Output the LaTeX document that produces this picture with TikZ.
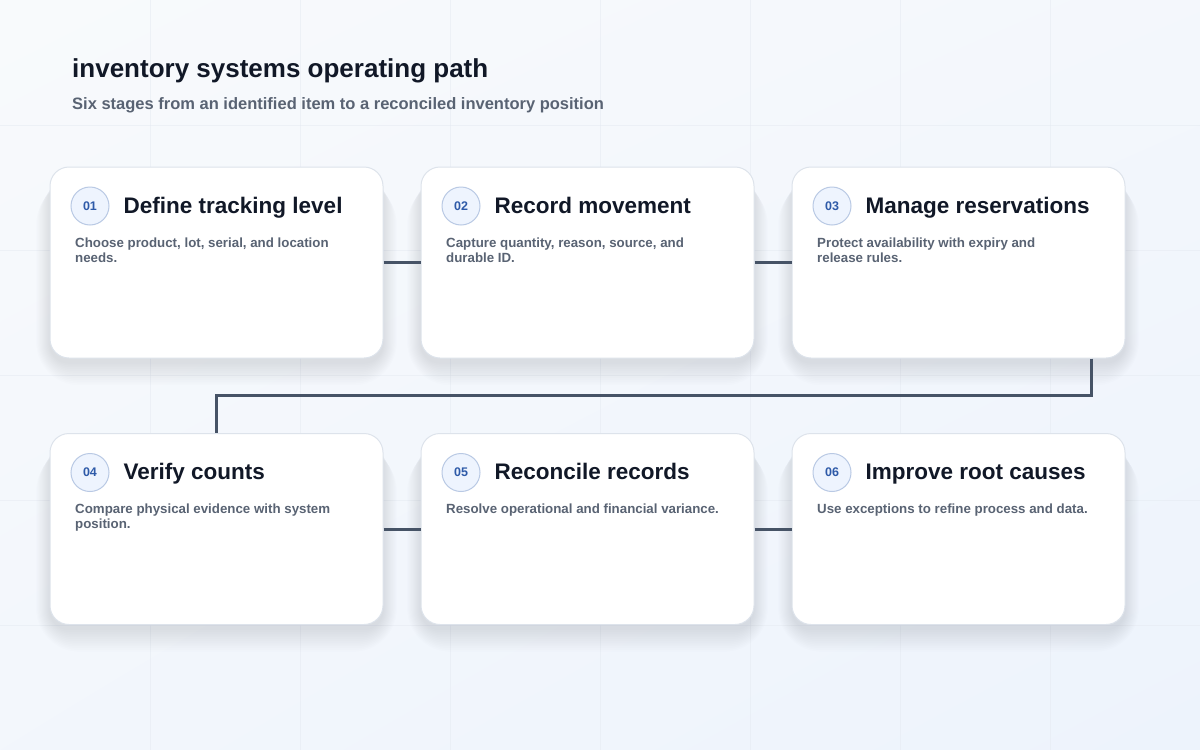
\documentclass[tikz,border=0pt]{standalone}
\usepackage{fontspec}
\setmainfont{Liberation Sans}
\usetikzlibrary{shadings}
\pgfdeclarelayer{back}
\pgfdeclarelayer{shadow}
\pgfsetlayers{back,shadow,main}
\definecolor{bgA}{HTML}{F8FAFC}
\definecolor{bgB}{HTML}{EDF3FC}
\definecolor{gridc}{HTML}{E3E8F0}
\definecolor{cardline}{HTML}{DDE3EB}
\definecolor{titlec}{HTML}{111827}
\definecolor{descc}{HTML}{596373}
\definecolor{badgefill}{HTML}{EEF4FE}
\definecolor{badgeline}{HTML}{B9C9E4}
\definecolor{badgetext}{HTML}{2E5AA8}
\definecolor{connc}{HTML}{465366}
\definecolor{shadowc}{HTML}{5A6B8C}
\tikzset{
  card/.style={draw=cardline, line width=1pt, fill=white, rounded corners=19pt,
    minimum width=333pt, minimum height=191pt, inner sep=0pt},
  badge/.style={circle, draw=badgeline, line width=1pt, fill=badgefill, minimum size=38pt, inner sep=0pt,
    text=badgetext, font=\fontsize{12.5}{14}\selectfont\bfseries},
  cardtitle/.style={anchor=base west, inner sep=0pt, text=titlec, font=\fontsize{22.5}{26}\selectfont\bfseries},
  desc/.style={anchor=base west, inner sep=0pt, text=descc, font=\fontsize{13.3}{15}\selectfont\bfseries},
  conn/.style={draw=connc, line width=3pt},
  gridline/.style={draw=gridc, line width=0.8pt, opacity=0.45},
  shadowlayer/.style={fill=shadowc, fill opacity=0.013}
}
\begin{document}
\begin{tikzpicture}[x=1pt,y=-1pt]
\useasboundingbox (0,0) rectangle (1200,750);
\begin{pgfonlayer}{back}
\shade[upper left=bgA, upper right=bgA!60!bgB, lower left=bgA!50!bgB, lower right=bgB] (0,0) rectangle (1200,750);
\foreach \gx in {150,300,...,1050} \draw[gridline] (\gx,0) -- (\gx,750);
\foreach \gy in {125,250,...,625} \draw[gridline] (0,\gy) -- (1200,\gy);
\end{pgfonlayer}

\node[anchor=base west, inner sep=0pt, text=titlec, font=\fontsize{26}{30}\selectfont\bfseries] (head) at (72,77) {inventory systems operating path};
\node[anchor=base west, inner sep=0pt, text=descc, font=\fontsize{16.5}{20}\selectfont\bfseries] (sub) at (72,109.5) {Six stages from an identified item to a reconciled inventory position};

\node[card] (c1) at (216.5,262.5) {};
\node[card] (c2) at (587.5,262.5) {};
\node[card] (c3) at (958.5,262.5) {};
\node[card] (c4) at (216.5,529) {};
\node[card] (c5) at (587.5,529) {};
\node[card] (c6) at (958.5,529) {};

\begin{pgfonlayer}{shadow}
\foreach \c in {c1,c2,c3,c4,c5,c6} {
  \foreach \k [evaluate=\k as \r using 19+\k] in {0,2,...,24} {
    \fill[shadowlayer, rounded corners=\r pt]
      ([shift={(-\k*0.55,\k*0.2+10)}]\c.north west) rectangle ([shift={(\k*0.55,\k*0.9+5)}]\c.south east);
  }
}
\end{pgfonlayer}

\draw[conn] (c1.east) -- (c2.west);
\draw[conn] (c2.east) -- (c3.west);
\draw[conn] (c4.east) -- (c5.west);
\draw[conn] (c5.east) -- (c6.west);
\coordinate (turn) at (1091.5,395);
\draw[conn] (c3.south -| turn) -- (turn) -| (c4.north);

% card 1
\node[badge] (b1) at (90,206) {01};
\node[cardtitle] (t1) at (123.5,213) {Define tracking level};
\node[desc] (d1a) at (75,247) {Choose product, lot, serial, and location};
\node[desc] (d1b) at (75,262) {needs.};
% card 2
\node[badge] (b2) at (461,206) {02};
\node[cardtitle] (t2) at (494.5,213) {Record movement};
\node[desc] (d2a) at (446,247) {Capture quantity, reason, source, and};
\node[desc] (d2b) at (446,262) {durable ID.};
% card 3
\node[badge] (b3) at (832,206) {03};
\node[cardtitle] (t3) at (865.5,213) {Manage reservations};
\node[desc] (d3a) at (817,247) {Protect availability with expiry and};
\node[desc] (d3b) at (817,262) {release rules.};
% card 4
\node[badge] (b4) at (90,472.5) {04};
\node[cardtitle] (t4) at (123.5,479.5) {Verify counts};
\node[desc] (d4a) at (75,513.5) {Compare physical evidence with system};
\node[desc] (d4b) at (75,528.5) {position.};
% card 5
\node[badge] (b5) at (461,472.5) {05};
\node[cardtitle] (t5) at (494.5,479.5) {Reconcile records};
\node[desc] (d5a) at (446,513.5) {Resolve operational and financial variance.};
% card 6
\node[badge] (b6) at (832,472.5) {06};
\node[cardtitle] (t6) at (865.5,479.5) {Improve root causes};
\node[desc] (d6a) at (817,513.5) {Use exceptions to refine process and data.};
\end{tikzpicture}
\end{document}
